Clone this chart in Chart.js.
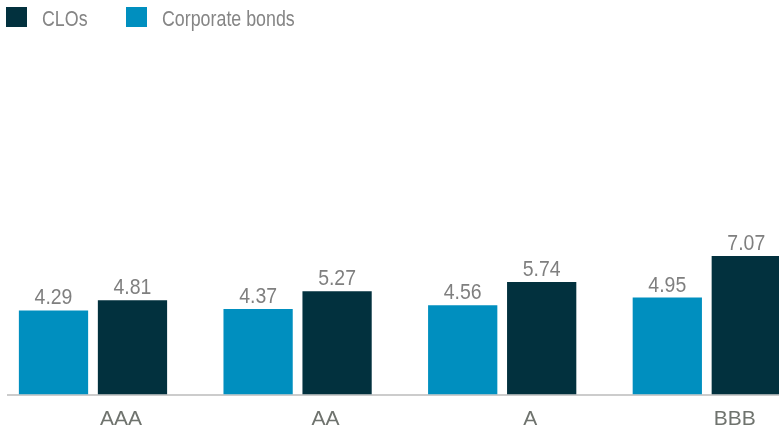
<!DOCTYPE html>
<html><head><meta charset="utf-8">
<script src="https://cdn.jsdelivr.net/npm/chart.js@4.4.0/dist/chart.umd.min.js"></script>
<style>
html,body{margin:0;padding:0;background:#fff;}
#wrap{position:relative;width:779px;height:430px;overflow:hidden;}
canvas{position:absolute;left:0;top:0;}
.leg{position:absolute;top:7px;height:20px;display:flex;align-items:center;font-size:22px;font-family:"Liberation Sans",Arial,sans-serif;color:#858585;white-space:nowrap;line-height:20px;}
.sw{width:21px;height:20px;margin-right:15px;flex:none;}
.leg span.t{position:relative;top:2px;display:inline-block;transform:scaleX(0.81);transform-origin:0 50%;}
</style></head>
<body><div id="wrap"><canvas id="c" width="779" height="430"></canvas><div id="legend"></div></div>
<script>
// ---- data ----
const categories = ['AAA', 'AA', 'A', 'BBB'];
const corporateBonds = [4.29, 4.37, 4.56, 4.95];
const clos = [4.81, 5.27, 5.74, 7.07];
const seriesNames = ['Corporate bonds', 'CLOs'];
const legendOrder = ['CLOs', 'Corporate bonds'];

// ---- styles ----
const BLUE = '#008fbf';
const DARK = '#02313e';
const FONT = '"Liberation Sans",Arial,sans-serif';
const colors = {'Corporate bonds': BLUE, 'CLOs': DARK};

const toPoints = arr => arr.map((v, i) => ({x: i, y: v}));

const valueLabels = {
  id: 'valueLabels',
  afterDatasetsDraw(chart) {
    const ctx = chart.ctx;
    chart.data.datasets.forEach((ds, di) => {
      chart.getDatasetMeta(di).data.forEach((bar, i) => {
        ctx.save();
        ctx.font = '22px ' + FONT;
        ctx.fillStyle = '#7f7f7f';
        ctx.textAlign = 'center';
        ctx.textBaseline = 'alphabetic';
        ctx.translate(bar.x, bar.y - 6);
        ctx.scale(0.885, 1);
        ctx.fillText(ds.data[i].y.toFixed(2), 0, 0);
        ctx.restore();
      });
    });
  }
};

const chart = new Chart(document.getElementById('c'), {
  type: 'bar',
  data: {
    datasets: [
      {label: seriesNames[0], data: toPoints(corporateBonds), backgroundColor: colors[seriesNames[0]]},
      {label: seriesNames[1], data: toPoints(clos), backgroundColor: colors[seriesNames[1]]}
    ]
  },
  options: {
    responsive: false,
    animation: false,
    devicePixelRatio: 1,
    layout: {padding: {left: 8, right: 0, top: 42, bottom: 0}},
    datasets: {bar: {categoryPercentage: 0.772, barPercentage: 0.877}},
    plugins: {legend: {display: false}, tooltip: {enabled: false}},
    scales: {
      x: {
        type: 'linear',
        min: -0.4154,
        max: 3.3529,
        offset: false,
        grid: {display: false},
        border: {display: true, color: '#cccccc', width: 2},
        afterBuildTicks: s => { s.ticks = categories.map((_, i) => ({value: i})); },
        afterFit: s => { s.height = 35.5; },
        ticks: {
          autoSkip: false, maxRotation: 0, minRotation: 0,
          labelOffset: 28, padding: 4,
          color: '#6f736e',
          font: {family: FONT, size: 21},
          callback: v => categories[v]
        }
      },
      y: {display: false, min: 0, max: 18}
    }
  },
  plugins: [valueLabels]
});

// HTML legend (real text)
const legendEl = document.getElementById('legend');
const legendLeft = [6, 126];
legendOrder.forEach((name, k) => {
  const item = document.createElement('div');
  item.className = 'leg';
  item.style.left = legendLeft[k] + 'px';
  const sw = document.createElement('div');
  sw.className = 'sw';
  sw.style.background = colors[name];
  const t = document.createElement('span');
  t.className = 't';
  t.textContent = name;
  item.appendChild(sw);
  item.appendChild(t);
  legendEl.appendChild(item);
});
</script>
</body></html>
